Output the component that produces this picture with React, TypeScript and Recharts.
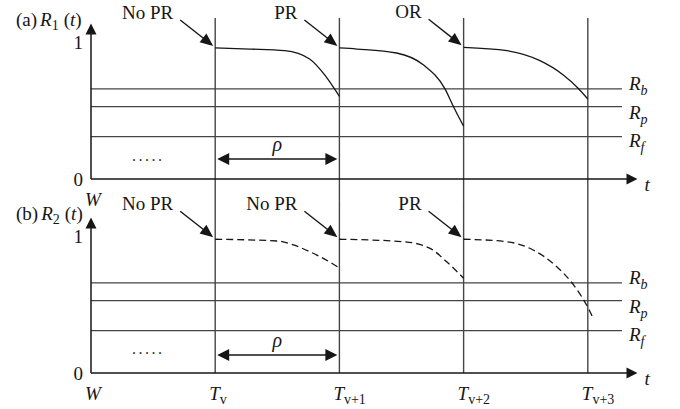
import React from "react";
import { ComposedChart, Line, XAxis, YAxis, ReferenceLine, ReferenceDot } from "recharts";

const FONT = '"Liberation Serif", "Times New Roman", serif';
const INK = "#161616";
const GRID = "#454545";

// time axis: W, T_v ... T_v+3
const timeTicks = [0, 1, 2, 3, 4];
const timeSymbols = ["W", "T", "T", "T", "T"];
const timeSubs = ["", "v", "v+1", "v+2", "v+3"];
const reliabilityTicks = [0, 1];

// reliability thresholds R_b, R_p, R_f
const thresholdNames = ["b", "p", "f"];
const thresholdValues = [0.66, 0.53, 0.31];

// (a) R1(t), one piece per interval
const r1Piece1 = [
  { t: 1, r: 0.96 }, { t: 1.28, r: 0.952 }, { t: 1.56, r: 0.94 }, { t: 1.76, r: 0.879 },
  { t: 1.88, r: 0.764 }, { t: 1.965, r: 0.654 }, { t: 2, r: 0.606 },
];
const r1Piece2 = [
  { t: 2, r: 0.96 }, { t: 2.14, r: 0.952 }, { t: 2.46, r: 0.923 }, { t: 2.675, r: 0.837 },
  { t: 2.85, r: 0.66 }, { t: 2.917, r: 0.533 }, { t: 3, r: 0.386 },
];
const r1Piece3 = [
  { t: 3, r: 0.965 }, { t: 3.35, r: 0.94 }, { t: 3.615, r: 0.867 }, { t: 3.8, r: 0.764 },
  { t: 3.92, r: 0.667 }, { t: 4, r: 0.586 },
];

// (b) R2(t)
const r2Piece1 = [
  { t: 1, r: 0.98 }, { t: 1.5, r: 0.967 }, { t: 1.63, r: 0.938 }, { t: 1.76, r: 0.889 },
  { t: 1.87, r: 0.84 }, { t: 2, r: 0.77 },
];
const r2Piece2 = [
  { t: 2, r: 0.98 }, { t: 2.515, r: 0.962 }, { t: 2.73, r: 0.913 }, { t: 2.864, r: 0.815 },
  { t: 3, r: 0.694 },
];
const r2Piece3 = [
  { t: 3, r: 0.98 }, { t: 3.347, r: 0.962 }, { t: 3.56, r: 0.901 }, { t: 3.75, r: 0.779 },
  { t: 3.885, r: 0.645 }, { t: 3.99, r: 0.498 }, { t: 4.04, r: 0.408 },
];

const eventsA = ["No PR", "PR", "OR"];
const eventsB = ["No PR", "No PR", "PR"];

// layout-only tweaks for the threshold captions (px)
const thresholdLabelShift = [1, 12, 10];

function headPoints(x: number, y: number, ux: number, uy: number, len: number, half: number) {
  const bx = x - ux * len;
  const by = y - uy * len;
  return `${x},${y} ${bx - uy * half},${by + ux * half} ${bx + uy * half},${by - ux * half}`;
}

function ArrowLine(props: any) {
  const { x1, y1, x2, y2, caption } = props;
  const dx = x2 - x1;
  const dy = y2 - y1;
  const len = Math.hypot(dx, dy) || 1;
  const ux = dx / len;
  const uy = dy / len;
  return (
    <g>
      <line x1={x1} y1={y1} x2={x2 - ux * 9} y2={y2 - uy * 9} stroke={INK} strokeWidth={1.5} />
      <polygon points={headPoints(x2, y2, ux, uy, 11, 5.5)} fill={INK} />
      {caption ? caption(x2, y2) : null}
    </g>
  );
}

function makeTitle(tag: string, idx: string) {
  return (x: number, y: number) => (
    <text x={x - 75} y={y + 3} fontSize={19} fill={INK} fontFamily={FONT}>
      <tspan>({tag})</tspan>
      <tspan dx={3} fontStyle="italic">R</tspan>
      <tspan fontSize={14} dy={4}>{idx}</tspan>
      <tspan dy={-4} dx={5}>(</tspan>
      <tspan fontStyle="italic">t</tspan>
      <tspan>)</tspan>
    </text>
  );
}

function tCaption(x: number, y: number) {
  return (
    <text x={x + 7} y={y + 12} fontSize={19} fontStyle="italic" fill={INK} fontFamily={FONT}>
      t
    </text>
  );
}

function ThresholdLine(props: any) {
  const { x1, y1, x2, y2, idx } = props;
  return (
    <g>
      <line x1={x1} y1={y1} x2={x2} y2={y2} stroke={GRID} strokeWidth={1.3} />
      <text x={x2 + 7} y={y2 + thresholdLabelShift[idx]} fontSize={19} fill={INK} fontFamily={FONT} fontStyle="italic">
        <tspan>R</tspan>
        <tspan fontSize={14} dy={5}>{thresholdNames[idx]}</tspan>
      </text>
    </g>
  );
}

function RhoArrow(props: any) {
  const { x1, y1, x2, y2 } = props;
  const a = x1 + 2;
  const b = x2 - 2;
  return (
    <g>
      <line x1={a + 10} y1={y1} x2={b - 10} y2={y2} stroke={INK} strokeWidth={1.5} />
      <polygon points={headPoints(a, y1, -1, 0, 12, 6)} fill={INK} />
      <polygon points={headPoints(b, y2, 1, 0, 12, 6)} fill={INK} />
      <text x={(a + b) / 2} y={y1 - 8} textAnchor="middle" fontSize={20} fontStyle="italic" fill={INK} fontFamily={FONT}>
        ρ
      </text>
    </g>
  );
}

function EventNote(props: any) {
  const { cx, cy, label } = props;
  const tipX = cx - 2;
  const tipY = cy - 2;
  const tailX = tipX - 33;
  const tailY = tipY - 26;
  const len = Math.hypot(33, 26);
  const ux = 33 / len;
  const uy = 26 / len;
  return (
    <g>
      <line x1={tailX} y1={tailY} x2={tipX - ux * 10} y2={tipY - uy * 10} stroke={INK} strokeWidth={1.4} />
      <polygon points={headPoints(tipX, tipY, ux, uy, 13, 5.5)} fill={INK} />
      <text x={tailX - 7} y={tailY - 1} textAnchor="end" fontSize={19} fill={INK} fontFamily={FONT}>
        {label}
      </text>
    </g>
  );
}

function Ellipsis(props: any) {
  const { cx, cy } = props;
  return (
    <text x={cx} y={cy} textAnchor="middle" fontSize={16} letterSpacing={2.5} fill="#333" fontFamily={FONT}>
      .....
    </text>
  );
}

function TimeTick(props: any) {
  const { x, y, payload } = props;
  const i = timeTicks.indexOf(payload.value);
  if (i < 0) return null;
  return (
    <text x={x - 6} y={y + 27} fontSize={19} fill={INK} fontFamily={FONT}>
      <tspan fontStyle="italic">{timeSymbols[i]}</tspan>
      {timeSubs[i] ? (
        <tspan fontSize={14} dy={4}>
          {timeSubs[i]}
        </tspan>
      ) : null}
    </text>
  );
}

type PanelProps = {
  tag: string;
  idx: string;
  pieces: { t: number; r: number }[][];
  events: string[];
  dashed: boolean;
  lineTop: number;
  lineBottom: number;
  xTicks: number[];
  rho: number;
  dots: number;
};

function Panel({ tag, idx, pieces, events, dashed, lineTop, lineBottom, xTicks, rho, dots }: PanelProps) {
  return (
    <ComposedChart
      width={680}
      height={215}
      margin={{ top: 42.5, right: 36.3, bottom: 6, left: 71 }}
      style={{ fontFamily: FONT }}
    >
      <XAxis
        dataKey="t"
        type="number"
        domain={[0, 4.45]}
        ticks={xTicks}
        interval={0}
        axisLine={false}
        tickLine={false}
        tickSize={0}
        tickMargin={0}
        height={30}
        tick={(p: any) => <TimeTick {...p} />}
      />
      <YAxis
        type="number"
        domain={[0, 1]}
        ticks={reliabilityTicks}
        interval={0}
        axisLine={false}
        tickLine={false}
        width={20}
        tick={{ fontSize: 19, fill: INK, fontFamily: FONT }}
      />
      {timeTicks.slice(1).map((t) => (
        <ReferenceLine
          key={`v${t}`}
          segment={[{ x: t, y: lineTop }, { x: t, y: lineBottom }]}
          stroke={GRID}
          strokeWidth={1.4}
          ifOverflow="visible"
        />
      ))}
      {thresholdValues.map((v, i) => (
        <ReferenceLine
          key={`h${i}`}
          segment={[{ x: 0, y: v }, { x: 4.275, y: v }]}
          ifOverflow="visible"
          shape={(p: any) => <ThresholdLine {...p} idx={i} />}
        />
      ))}
      <ReferenceLine
        segment={[{ x: 0, y: 0 }, { x: 0, y: 1.14 }]}
        ifOverflow="visible"
        shape={(p: any) => <ArrowLine {...p} caption={makeTitle(tag, idx)} />}
      />
      <ReferenceLine
        segment={[{ x: 0, y: 0 }, { x: 4.4, y: 0 }]}
        ifOverflow="visible"
        shape={(p: any) => <ArrowLine {...p} caption={tCaption} />}
      />
      <ReferenceLine
        segment={[{ x: 1, y: rho }, { x: 2, y: rho }]}
        ifOverflow="visible"
        shape={(p: any) => <RhoArrow {...p} />}
      />
      <ReferenceDot x={0.46} y={dots} r={0} ifOverflow="visible" shape={(p: any) => <Ellipsis {...p} />} />
      {pieces.map((piece, i) => (
        <Line
          key={`c${i}`}
          data={piece}
          dataKey="r"
          type="monotone"
          stroke={INK}
          strokeWidth={1.3}
          strokeDasharray={dashed ? "7 4" : undefined}
          dot={false}
          activeDot={false}
          isAnimationActive={false}
        />
      ))}
      {pieces.map((piece, i) => (
        <ReferenceDot
          key={`e${i}`}
          x={piece[0].t}
          y={piece[0].r}
          r={0}
          ifOverflow="visible"
          shape={(p: any) => <EventNote {...p} label={events[i]} />}
        />
      ))}
    </ComposedChart>
  );
}

export default function App() {
  return (
    <div style={{ position: "absolute", left: 0, top: 0, width: 680, height: 409, background: "#fff", overflow: "hidden" }}>
      <div style={{ position: "absolute", left: 0, top: 0 }}>
        <Panel
          tag="a"
          idx="1"
          pieces={[r1Piece1, r1Piece2, r1Piece3]}
          events={eventsA}
          dashed={false}
          lineTop={1.18}
          lineBottom={-0.154}
          xTicks={[0]}
          rho={0.147}
          dots={0.13}
        />
      </div>
      <div style={{ position: "absolute", left: 0, top: 194 }}>
        <Panel
          tag="b"
          idx="2"
          pieces={[r2Piece1, r2Piece2, r2Piece3]}
          events={eventsB}
          dashed={true}
          lineTop={1.267}
          lineBottom={0}
          xTicks={timeTicks}
          rho={0.132}
          dots={0.14}
        />
      </div>
    </div>
  );
}
